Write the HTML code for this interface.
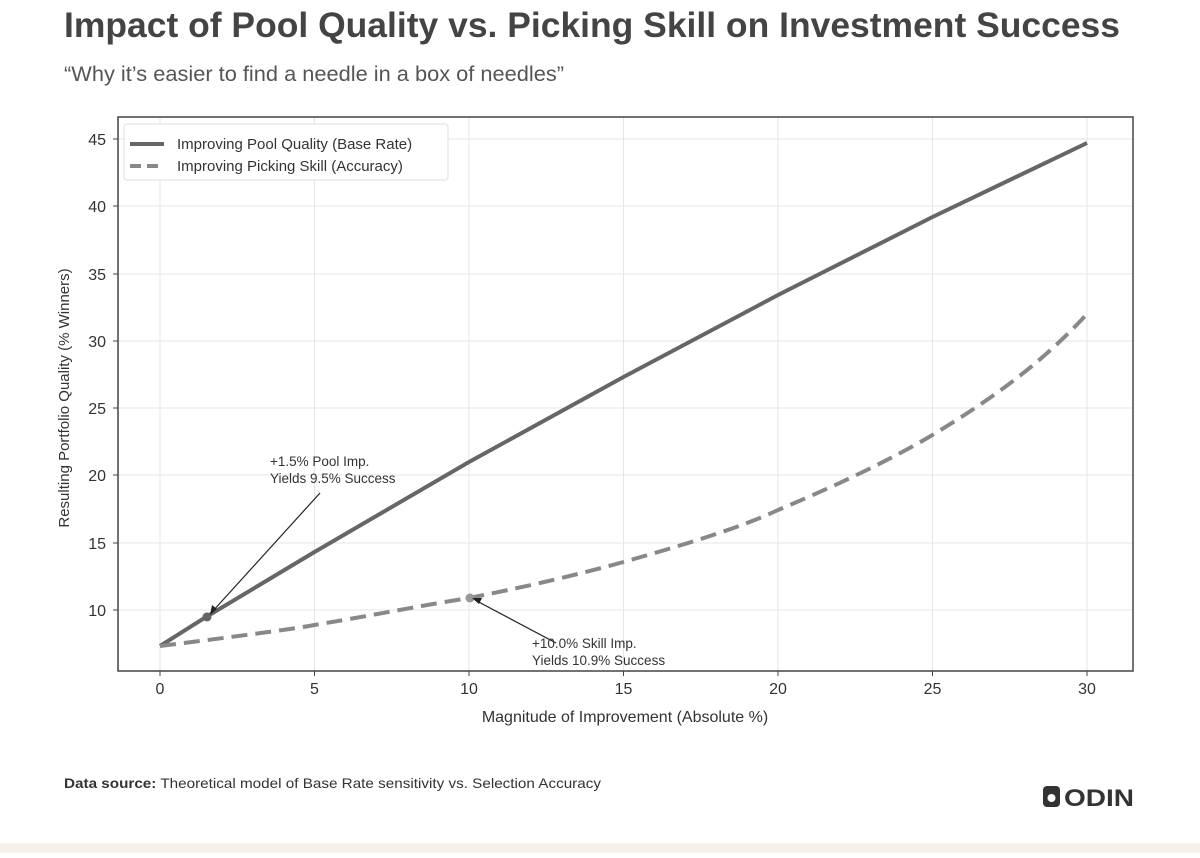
<!DOCTYPE html>
<html><head><meta charset="utf-8"><style>
body{margin:0;width:1200px;height:853px;background:#fff;overflow:hidden;font-family:"Liberation Sans",sans-serif;}
</style></head><body>
<svg width="1200" height="853" xmlns="http://www.w3.org/2000/svg" font-family="Liberation Sans, sans-serif">
<rect x="0" y="843" width="1200" height="10" fill="#f6f0eb"/>
<text x="64" y="37" font-size="35" font-weight="bold" fill="#444" textLength="1056" lengthAdjust="spacingAndGlyphs">Impact of Pool Quality vs. Picking Skill on Investment Success</text>
<text x="64" y="81" font-size="21" fill="#555" textLength="500" lengthAdjust="spacingAndGlyphs">“Why it’s easier to find a needle in a box of needles”</text>
<g stroke="#e6e6e6" stroke-width="1">
<line x1="160" y1="117" x2="160" y2="671"/><line x1="314.5" y1="117" x2="314.5" y2="671"/><line x1="469" y1="117" x2="469" y2="671"/><line x1="623.5" y1="117" x2="623.5" y2="671"/><line x1="778" y1="117" x2="778" y2="671"/><line x1="932.5" y1="117" x2="932.5" y2="671"/><line x1="1087" y1="117" x2="1087" y2="671"/>
<line x1="118" y1="139" x2="1133" y2="139"/><line x1="118" y1="206" x2="1133" y2="206"/><line x1="118" y1="274" x2="1133" y2="274"/><line x1="118" y1="341" x2="1133" y2="341"/><line x1="118" y1="408" x2="1133" y2="408"/><line x1="118" y1="475" x2="1133" y2="475"/><line x1="118" y1="543" x2="1133" y2="543"/><line x1="118" y1="610" x2="1133" y2="610"/>
</g>
<rect x="118" y="117" width="1015" height="554" fill="none" stroke="#444" stroke-width="1.5"/>
<g stroke="#444" stroke-width="1">
<line x1="160" y1="671" x2="160" y2="676"/><line x1="314.5" y1="671" x2="314.5" y2="676"/><line x1="469" y1="671" x2="469" y2="676"/><line x1="623.5" y1="671" x2="623.5" y2="676"/><line x1="778" y1="671" x2="778" y2="676"/><line x1="932.5" y1="671" x2="932.5" y2="676"/><line x1="1087" y1="671" x2="1087" y2="676"/>
<line x1="113" y1="139" x2="118" y2="139"/><line x1="113" y1="206" x2="118" y2="206"/><line x1="113" y1="274" x2="118" y2="274"/><line x1="113" y1="341" x2="118" y2="341"/><line x1="113" y1="408" x2="118" y2="408"/><line x1="113" y1="475" x2="118" y2="475"/><line x1="113" y1="543" x2="118" y2="543"/><line x1="113" y1="610" x2="118" y2="610"/>
</g>
<g font-size="16" fill="#333" text-anchor="middle">
<text x="160" y="694">0</text><text x="314.5" y="694">5</text><text x="469" y="694">10</text><text x="623.5" y="694">15</text><text x="778" y="694">20</text><text x="932.5" y="694">25</text><text x="1087" y="694">30</text>
</g>
<g font-size="16" fill="#333" text-anchor="end">
<text x="106" y="145">45</text><text x="106" y="212">40</text><text x="106" y="280">35</text><text x="106" y="347">30</text><text x="106" y="414">25</text><text x="106" y="481">20</text><text x="106" y="549">15</text><text x="106" y="616">10</text>
</g>
<text x="625" y="722" font-size="16" fill="#333" text-anchor="middle">Magnitude of Improvement (Absolute %)</text>
<text transform="translate(69,398) rotate(-90)" font-size="15" fill="#333" text-anchor="middle">Resulting Portfolio Quality (% Winners)</text>
<path d="M160,646 L206,617 L314.5,552 L469,462 L623.5,377 L778,295 L932.5,217 L1087,143" fill="none" stroke="#666" stroke-width="4"/>
<path d="M160,646 C240,636 300,628 314.5,625 C380,614 430,604 469,598 C530,586 580,574 623.5,562 C680,546 740,528 778,510 C840,484 890,460 932.5,435 C990,400 1040,365 1087,314" fill="none" stroke="#888" stroke-width="4" stroke-dasharray="16,8"/>
<circle cx="207" cy="617" r="4.5" fill="#666"/>
<circle cx="470" cy="598" r="4.5" fill="#999"/>
<line x1="320" y1="493" x2="212" y2="612" stroke="#222" stroke-width="1.2"/>
<path d="M210,615 L212,605 L217,609 Z" fill="#222"/>
<line x1="556" y1="643" x2="475" y2="600" stroke="#222" stroke-width="1.2"/>
<path d="M472,598 L482,598 L479,604 Z" fill="#222"/>
<text x="270" y="466" font-size="13.5" fill="#333">+1.5% Pool Imp.</text>
<text x="270" y="483" font-size="13.5" fill="#333">Yields 9.5% Success</text>
<text x="532" y="648" font-size="13.5" fill="#333">+10.0% Skill Imp.</text>
<text x="532" y="665" font-size="13.5" fill="#333">Yields 10.9% Success</text>
<rect x="124" y="124" width="324" height="56" rx="3" fill="#fff" stroke="#ddd"/>
<line x1="130" y1="144" x2="164" y2="144" stroke="#666" stroke-width="4"/>
<line x1="130" y1="166" x2="164" y2="166" stroke="#888" stroke-width="4" stroke-dasharray="11,6"/>
<text x="177" y="149" font-size="15" fill="#333">Improving Pool Quality (Base Rate)</text>
<text x="177" y="171" font-size="15" fill="#333">Improving Picking Skill (Accuracy)</text>
<text x="64" y="788" font-size="14" fill="#333" textLength="537" lengthAdjust="spacingAndGlyphs"><tspan font-weight="bold">Data source:</tspan> Theoretical model of Base Rate sensitivity vs. Selection Accuracy</text>
<rect x="1043" y="786" width="17" height="21" rx="4" fill="#333"/>
<circle cx="1051.5" cy="798" r="4" fill="#fff"/>
<text x="1064" y="806" font-size="24" font-weight="bold" fill="#333" textLength="70" lengthAdjust="spacingAndGlyphs">ODIN</text>
</svg>
</body></html>
